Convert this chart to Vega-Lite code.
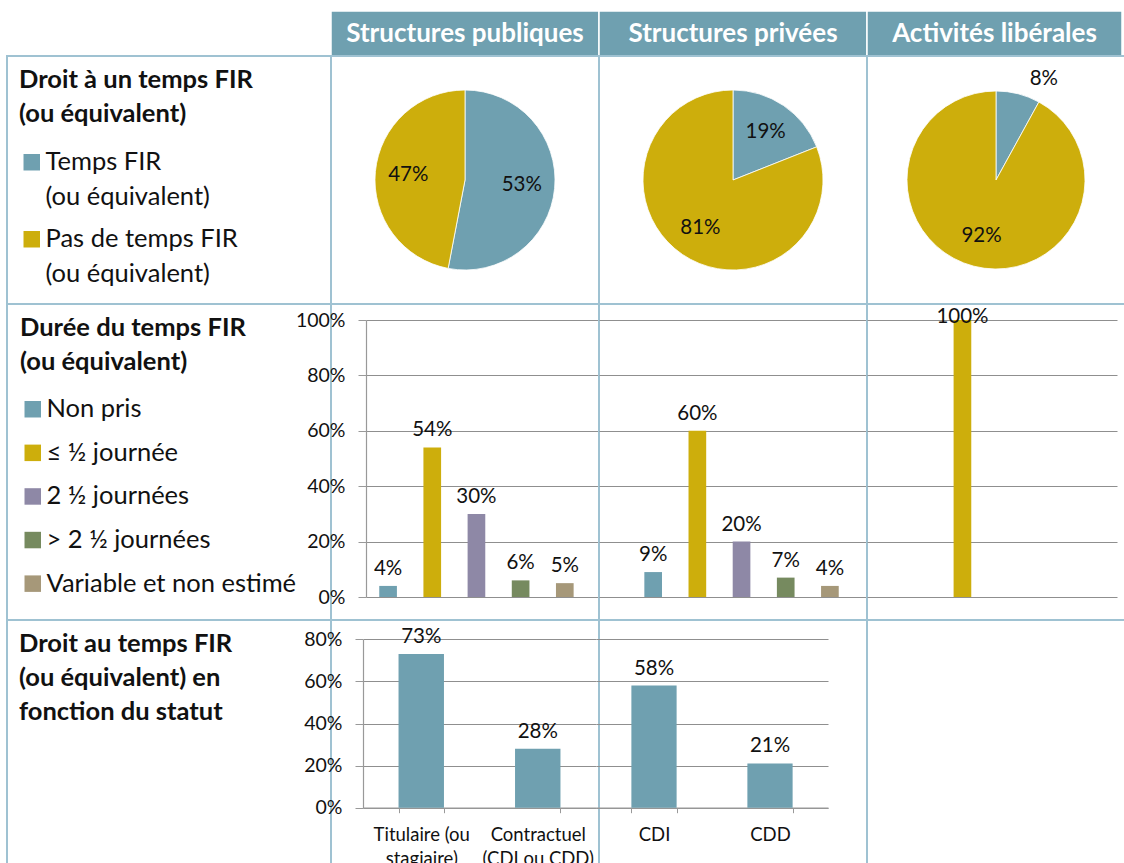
{
  "$schema": "https://vega.github.io/schema/vega-lite/v6.json",
  "padding": {"left": 6, "top": 10, "right": 0, "bottom": 0},
  "datasets": {
    "pies": [
      {"secteur": "Structures publiques", "cat": "Temps FIR (ou équivalent)", "value": 0.53},
      {"secteur": "Structures publiques", "cat": "Pas de temps FIR (ou équivalent)", "value": 0.47},
      {"secteur": "Structures privées", "cat": "Temps FIR (ou équivalent)", "value": 0.19},
      {"secteur": "Structures privées", "cat": "Pas de temps FIR (ou équivalent)", "value": 0.81},
      {"secteur": "Activités libérales", "cat": "Temps FIR (ou équivalent)", "value": 0.08},
      {"secteur": "Activités libérales", "cat": "Pas de temps FIR (ou équivalent)", "value": 0.92}
    ],
    "duree": [
      {"secteur": "Structures publiques", "cat": "Non pris", "value": 0.04},
      {"secteur": "Structures publiques", "cat": "≤ ½ journée", "value": 0.54},
      {"secteur": "Structures publiques", "cat": "2 ½ journées", "value": 0.30},
      {"secteur": "Structures publiques", "cat": "> 2 ½ journées", "value": 0.06},
      {"secteur": "Structures publiques", "cat": "Variable et non estimé", "value": 0.05},
      {"secteur": "Structures privées", "cat": "Non pris", "value": 0.09},
      {"secteur": "Structures privées", "cat": "≤ ½ journée", "value": 0.60},
      {"secteur": "Structures privées", "cat": "2 ½ journées", "value": 0.20},
      {"secteur": "Structures privées", "cat": "> 2 ½ journées", "value": 0.07},
      {"secteur": "Structures privées", "cat": "Variable et non estimé", "value": 0.04},
      {"secteur": "Activités libérales", "cat": "≤ ½ journée", "value": 1.00}
    ],
    "statut": [
      {"secteur": "Structures publiques", "statut": "Titulaire (ou stagiaire)", "value": 0.73},
      {"secteur": "Structures publiques", "statut": "Contractuel (CDI ou CDD)", "value": 0.28},
      {"secteur": "Structures privées", "statut": "CDI", "value": 0.58},
      {"secteur": "Structures privées", "statut": "CDD", "value": 0.21}
    ]
  },
  "config": {
    "font": "Lato",
    "view": {"stroke": "#9fc2d2", "strokeWidth": 2},
    "text": {"font": "Lato", "color": "#111111"},
    "style": {"guide-label": {"lineHeight": 35}},
    "axis": {
      "labelFont": "Lato", "labelFontSize": 19.5, "labelColor": "#111111",
      "domainColor": "#999999", "tickColor": "#999999", "gridColor": "#8f8f8f",
      "gridWidth": 1, "domainWidth": 1.2, "title": null
    },
    "legend": {
      "orient": "none", "padding": 0,
      "titleFont": "Lato", "titleFontSize": 25.5, "titleFontWeight": "bold", "titleColor": "#111111",
      "titleLineHeight": 34, "titleLimit": 0,
      "labelFont": "Lato", "labelFontSize": 25.5, "labelColor": "#111111", "labelLimit": 0,
      "symbolType": "square", "symbolSize": 272, "symbolStrokeWidth": 0, "symbolOpacity": 1,
      "symbolOffset": 0, "labelOffset": 1
    },
    "title": {"font": "Lato", "fontSize": 25.5, "fontWeight": "bold", "color": "#111111"}
  },
  "columns": 4,
  "align": "each",
  "bounds": "flush",
  "spacing": 0,
  "resolve": {"scale": {"color": "independent", "theta": "independent"}, "legend": {"color": "independent"}},
  "concat": [
    {"width": 324, "height": 45, "view": {"stroke": null}, "data": {"values": [{}]}, "mark": {"type": "text", "text": ""}},
    {"width": 268, "height": 45, "view": {"fill": "#6fa0b0", "stroke": "#ffffff", "strokeWidth": 1.5},
     "data": {"name": "pies"},
     "transform": [{"filter": "datum.secteur == 'Structures publiques'"}, {"aggregate": [{"op": "count", "as": "n"}], "groupby": ["secteur"]}],
     "mark": {"type": "text", "fontSize": 26, "fontWeight": "bold", "color": "#ffffff"},
     "encoding": {"text": {"field": "secteur"}}},
    {"width": 268, "height": 45, "view": {"fill": "#6fa0b0", "stroke": "#ffffff", "strokeWidth": 1.5},
     "data": {"name": "pies"},
     "transform": [{"filter": "datum.secteur == 'Structures privées'"}, {"aggregate": [{"op": "count", "as": "n"}], "groupby": ["secteur"]}],
     "mark": {"type": "text", "fontSize": 26, "fontWeight": "bold", "color": "#ffffff"},
     "encoding": {"text": {"field": "secteur"}}},
    {"width": 255, "height": 45, "view": {"fill": "#6fa0b0", "stroke": "#ffffff", "strokeWidth": 1.5},
     "data": {"name": "pies"},
     "transform": [{"filter": "datum.secteur == 'Activités libérales'"}, {"aggregate": [{"op": "count", "as": "n"}], "groupby": ["secteur"]}],
     "mark": {"type": "text", "fontSize": 26, "fontWeight": "bold", "color": "#ffffff"},
     "encoding": {"text": {"field": "secteur"}}},

    {"width": 324, "height": 248, "view": {"stroke": "#9fc2d2", "strokeWidth": 2}, "data": {"values": [{}]}, "mark": {"type": "text", "text": ""}},
    {"width": 268, "height": 248, "view": {"stroke": "#9fc2d2", "strokeWidth": 2}, "data": {"name": "pies"},
     "transform": [{"filter": "datum.secteur == 'Structures publiques'"}],
     "encoding": {
       "theta": {"field": "value", "type": "quantitative", "stack": true},
       "order": {"field": "cat", "type": "nominal", "sort": "descending"}
     },
     "layer": [
       {"mark": {"type": "arc", "outerRadius": 90, "stroke": "#ffffff", "strokeWidth": 0.8},
        "encoding": {"color": {"field": "cat", "type": "nominal",
          "scale": {"domain": ["Temps FIR (ou équivalent)", "Pas de temps FIR (ou équivalent)"], "range": ["#6fa0b0", "#cdae0c"]},
          "legend": {"legendX": -312, "legendY": 12, "title": ["Droit à un temps FIR", "(ou équivalent)"], "titlePadding": 22, "rowPadding": 15,
            "labelExpr": "split(replace(datum.label, ' (', '|('), '|')"}}}},
       {"mark": {"type": "text", "radius": 57, "fontSize": 20.5},
        "encoding": {"text": {"field": "value", "type": "quantitative", "format": ".0%"}, "detail": {"field": "cat"}}}
     ]},
    {"width": 268, "height": 248, "view": {"stroke": "#9fc2d2", "strokeWidth": 2}, "data": {"name": "pies"},
     "transform": [{"filter": "datum.secteur == 'Structures privées'"}],
     "encoding": {
       "theta": {"field": "value", "type": "quantitative", "stack": true},
       "order": {"field": "cat", "type": "nominal", "sort": "descending"}
     },
     "layer": [
       {"mark": {"type": "arc", "outerRadius": 90, "stroke": "#ffffff", "strokeWidth": 0.8},
        "encoding": {"color": {"field": "cat", "type": "nominal",
          "scale": {"domain": ["Temps FIR (ou équivalent)", "Pas de temps FIR (ou équivalent)"], "range": ["#6fa0b0", "#cdae0c"]},
          "legend": null}}},
       {"mark": {"type": "text", "radius": 58, "fontSize": 20.5},
        "encoding": {"text": {"field": "value", "type": "quantitative", "format": ".0%"}, "detail": {"field": "cat"}}}
     ]},
    {"width": 258, "height": 248, "view": {"stroke": "#9fc2d2", "strokeWidth": 2}, "data": {"name": "pies"},
     "transform": [{"filter": "datum.secteur == 'Activités libérales'"}],
     "encoding": {
       "theta": {"field": "value", "type": "quantitative", "stack": true},
       "order": {"field": "cat", "type": "nominal", "sort": "descending"}
     },
     "layer": [
       {"mark": {"type": "arc", "outerRadius": 89, "stroke": "#ffffff", "strokeWidth": 0.8},
        "encoding": {"color": {"field": "cat", "type": "nominal",
          "scale": {"domain": ["Temps FIR (ou équivalent)", "Pas de temps FIR (ou équivalent)"], "range": ["#6fa0b0", "#cdae0c"]},
          "legend": null}}},
       {"mark": {"type": "text", "radius": 58, "fontSize": 20.5},
        "encoding": {"text": {"field": "value", "type": "quantitative", "format": ".0%"}, "detail": {"field": "cat"},
          "opacity": {"condition": {"test": "datum.value < 0.1", "value": 0}, "value": 1}}},
       {"mark": {"type": "text", "radius": 104, "dx": 22, "fontSize": 20.5},
        "encoding": {"text": {"field": "value", "type": "quantitative", "format": ".0%"}, "detail": {"field": "cat"},
          "opacity": {"condition": {"test": "datum.value < 0.1", "value": 1}, "value": 0}}}
     ]},

    {"width": 324, "height": 316, "view": {"stroke": "#9fc2d2", "strokeWidth": 2}, "data": {"values": [{}]}, "mark": {"type": "text", "text": ""}},
    {"width": 268, "height": 316, "data": {"name": "duree"},
     "transform": [{"filter": "datum.secteur == 'Structures publiques'"}],
     "encoding": {
       "x": {"field": "cat", "type": "nominal", "axis": null,
         "scale": {"domain": ["Non pris", "≤ ½ journée", "2 ½ journées", "> 2 ½ journées", "Variable et non estimé"],
           "range": [35, 268], "paddingInner": 0.6, "paddingOuter": 0.437, "align": 0.343}},
       "y": {"field": "value", "type": "quantitative",
         "scale": {"domain": [0, 1], "range": [293, 16], "nice": false},
         "axis": {"values": [0, 0.2, 0.4, 0.6, 0.8, 1], "format": ".0%", "offset": -35, "grid": true, "tickSize": 8, "labelPadding": 13}}
     },
     "layer": [
       {"mark": {"type": "bar"},
        "encoding": {"color": {"field": "cat", "type": "nominal",
          "scale": {"domain": ["Non pris", "≤ ½ journée", "2 ½ journées", "> 2 ½ journées", "Variable et non estimé"],
            "range": ["#6fa0b0", "#cdae0c", "#8e88a6", "#768a5f", "#a69879"]},
          "legend": {"legendX": -311, "legendY": 12, "title": ["Durée du temps FIR", "(ou équivalent)"], "titlePadding": 21, "rowPadding": 16.6}}}},
       {"mark": {"type": "text", "baseline": "bottom", "dy": -7, "fontSize": 20.5},
        "encoding": {"text": {"field": "value", "type": "quantitative", "format": ".0%"}}}
     ]},
    {"width": 268, "height": 316, "data": {"name": "duree"},
     "transform": [{"filter": "datum.secteur == 'Structures privées'"}],
     "encoding": {
       "x": {"field": "cat", "type": "nominal", "axis": null,
         "scale": {"domain": ["Non pris", "≤ ½ journée", "2 ½ journées", "> 2 ½ journées", "Variable et non estimé"],
           "range": [0, 268], "paddingInner": 0.6, "paddingOuter": 0.833, "align": 0.616}},
       "y": {"field": "value", "type": "quantitative",
         "scale": {"domain": [0, 1], "range": [293, 16], "nice": false},
         "axis": {"values": [0, 0.2, 0.4, 0.6, 0.8, 1], "grid": true, "labels": false, "ticks": false, "domain": false}}
     },
     "layer": [
       {"mark": {"type": "bar"},
        "encoding": {"color": {"field": "cat", "type": "nominal",
          "scale": {"domain": ["Non pris", "≤ ½ journée", "2 ½ journées", "> 2 ½ journées", "Variable et non estimé"],
            "range": ["#6fa0b0", "#cdae0c", "#8e88a6", "#768a5f", "#a69879"]},
          "legend": null}}},
       {"mark": {"type": "text", "baseline": "bottom", "dy": -7, "fontSize": 20.5},
        "encoding": {"text": {"field": "value", "type": "quantitative", "format": ".0%"}}}
     ]},
    {"width": 258, "height": 316, "data": {"name": "duree"},
     "transform": [{"filter": "datum.secteur == 'Activités libérales'"}],
     "encoding": {
       "x": {"field": "cat", "type": "nominal", "axis": null,
         "scale": {"domain": ["Non pris", "≤ ½ journée", "2 ½ journées", "> 2 ½ journées", "Variable et non estimé"],
           "range": [0, 250], "paddingInner": 0.6, "paddingOuter": 0.629, "align": 0.763}},
       "y": {"field": "value", "type": "quantitative",
         "scale": {"domain": [0, 1], "range": [293, 16], "nice": false},
         "axis": {"values": [0, 0.2, 0.4, 0.6, 0.8, 1], "grid": true, "labels": false, "ticks": false, "domain": false}}
     },
     "layer": [
       {"mark": {"type": "bar"},
        "encoding": {"color": {"field": "cat", "type": "nominal",
          "scale": {"domain": ["Non pris", "≤ ½ journée", "2 ½ journées", "> 2 ½ journées", "Variable et non estimé"],
            "range": ["#6fa0b0", "#cdae0c", "#8e88a6", "#768a5f", "#a69879"]},
          "legend": null}}},
       {"mark": {"type": "text", "baseline": "middle", "dy": -3, "fontSize": 20.5},
        "encoding": {"text": {"field": "value", "type": "quantitative", "format": ".0%"}}}
     ]},

    {"width": 324, "height": 260, "view": {"stroke": "#9fc2d2", "strokeWidth": 2}, "data": {"values": [{}]}, "mark": {"type": "text", "text": ""},
     "title": {"text": ["Droit au temps FIR", "(ou équivalent) en", "fonction du statut"], "orient": "bottom", "anchor": "start", "frame": "group",
       "baseline": "top", "offset": -248, "dx": 12, "lineHeight": 34}},
    {"width": 268, "height": 260, "data": {"name": "statut"},
     "transform": [{"filter": "datum.secteur == 'Structures publiques'"}],
     "encoding": {
       "x": {"field": "statut", "type": "nominal",
         "scale": {"domain": ["Titulaire (ou stagiaire)", "Contractuel (CDI ou CDD)"], "range": [32, 265], "paddingInner": 0.61, "paddingOuter": 0.305},
         "axis": {"orient": "bottom", "offset": -72.3, "tickBand": "extent", "tickSize": 5, "labelAngle": 0, "labelFontSize": 18.5, "labelPadding": 13, "labelLineHeight": 24, "labelLimit": 0,
           "labelExpr": "datum.label == 'Titulaire (ou stagiaire)' ? ['Titulaire (ou', 'stagiaire)'] : datum.label == 'Contractuel (CDI ou CDD)' ? ['Contractuel', '(CDI ou CDD)'] : datum.label"}},
       "y": {"field": "value", "type": "quantitative",
         "scale": {"domain": [0, 0.8], "range": [187.7, 19.3], "nice": false},
         "axis": {"values": [0, 0.2, 0.4, 0.6, 0.8], "format": ".0%", "offset": -32, "grid": true, "tickSize": 8, "labelPadding": 13}}
     },
     "layer": [
       {"mark": {"type": "bar", "color": "#6fa0b0"}},
       {"mark": {"type": "text", "baseline": "bottom", "dy": -7, "fontSize": 20.5},
        "encoding": {"text": {"field": "value", "type": "quantitative", "format": ".0%"}}}
     ]},
    {"width": 268, "height": 260, "data": {"name": "statut"},
     "transform": [{"filter": "datum.secteur == 'Structures privées'"}],
     "encoding": {
       "x": {"field": "statut", "type": "nominal",
         "scale": {"domain": ["CDI", "CDD"], "range": [-3, 229], "paddingInner": 0.61, "paddingOuter": 0.305},
         "axis": {"orient": "bottom", "offset": -72.3, "tickBand": "extent", "tickSize": 5, "labelAngle": 0, "labelFontSize": 18.5, "labelPadding": 13, "labelLineHeight": 24}},
       "y": {"field": "value", "type": "quantitative",
         "scale": {"domain": [0, 0.8], "range": [187.7, 19.3], "nice": false},
         "axis": {"values": [0, 0.2, 0.4, 0.6, 0.8], "grid": true, "labels": false, "ticks": false, "domain": false}}
     },
     "layer": [
       {"mark": {"type": "bar", "color": "#6fa0b0"}},
       {"mark": {"type": "text", "baseline": "bottom", "dy": -7, "fontSize": 20.5},
        "encoding": {"text": {"field": "value", "type": "quantitative", "format": ".0%"}}}
     ]},
    {"width": 258, "height": 260, "view": {"stroke": "#9fc2d2", "strokeWidth": 2}, "data": {"values": [{}]}, "mark": {"type": "text", "text": ""}}
  ]
}
